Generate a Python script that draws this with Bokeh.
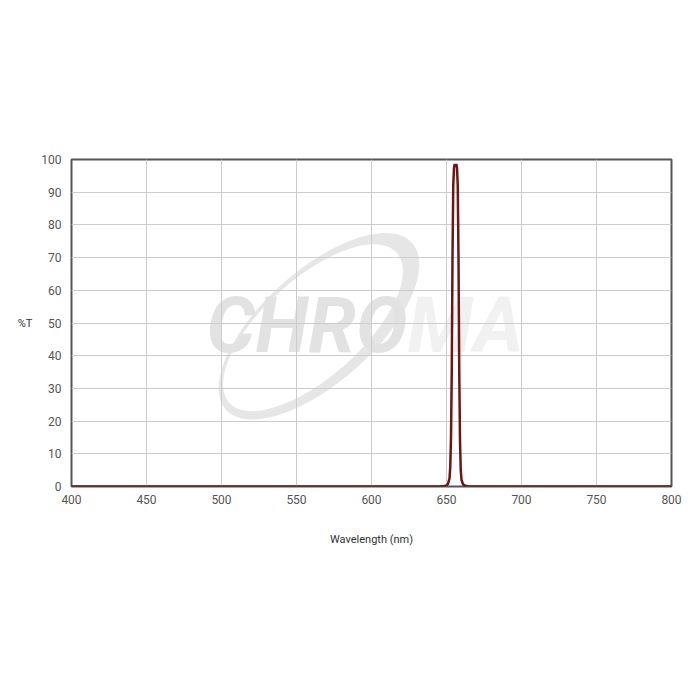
from bokeh.plotting import figure
from bokeh.models import SingleIntervalTicker, Range1d
from bokeh.core.properties import value
from bokeh.embed import file_html
from bokeh.resources import INLINE

# Transmission spectrum
wavelength = [400, 640, 646, 648, 650, 651, 652, 652.5, 653, 653.5, 654, 654.5, 655,
              655.5, 656, 656.5, 657, 657.5, 658, 658.5, 659, 659.5, 660, 661, 662,
              664, 668, 800]
transmission = [0, 0, 0.05, 0.1, 0.3, 0.8, 2.5, 6, 15, 35, 70, 92, 97.5,
                98.6, 98.0, 98.6, 97.5, 92, 70, 35, 14, 5, 2, 0.7, 0.3,
                0.1, 0.02, 0]

x_ticks_interval = 50
y_ticks_interval = 10
x_title = "Wavelength (nm)"
y_title = "%T"

p = figure(width=692, height=692, output_backend="svg", toolbar_location=None,
           x_range=Range1d(400, 800), y_range=Range1d(0, 100),
           min_border_left=71, min_border_right=21, min_border_top=159,
           min_border_bottom=206)
p.background_fill_color = "white"
p.border_fill_color = "white"
p.outline_line_color = "#555555"
p.outline_line_width = 2

# Watermark (decorative logo, drawn beneath the grid)
wm_cx, wm_cy = 565, 49
p.ellipse(x=[wm_cx], y=[wm_cy], width=250, height=112, angle=0.73,
          width_units="screen", height_units="screen",
          fill_color="#e6e6e6", line_color=None, level="image")
p.ellipse(x=[wm_cx - 4.0], y=[wm_cy - 0.45], width=225, height=98, angle=0.73,
          width_units="screen", height_units="screen",
          fill_color="white", line_color=None, level="image")
p.text(x=[624], y=[49], text=["CHRO"], text_align="right", text_baseline="alphabetic",
       text_font=value("Roboto"), text_font_style="bold italic", text_font_size="77px",
       text_color="#e2e2e2", level="image")
p.text(x=[624], y=[49], text=["MA"], text_align="left", text_baseline="alphabetic",
       text_font=value("Roboto"), text_font_style="bold italic", text_font_size="77px",
       text_color="#f1f1f1", level="image")

p.line(wavelength, transmission, line_color="#6e1515", line_width=2.5)

p.xaxis.ticker = SingleIntervalTicker(interval=x_ticks_interval)
p.yaxis.ticker = SingleIntervalTicker(interval=y_ticks_interval)
for ax in (p.xaxis, p.yaxis):
    ax.axis_line_color = None
    ax.major_tick_line_color = None
    ax.minor_tick_line_color = None
    ax.major_label_text_font = "Roboto"
    ax.major_label_text_font_size = "12px"
    ax.major_label_text_color = "#555555"
    ax.axis_label_text_font = "Roboto"
    ax.axis_label_text_font_size = "11px"
    ax.axis_label_text_font_style = "normal"
    ax.axis_label_text_color = "#333333"

p.xaxis.axis_label = x_title
p.xaxis.major_label_standoff = 2
p.xaxis.axis_label_standoff = 26
p.yaxis.axis_label = y_title
p.yaxis.axis_label_orientation = "horizontal"
p.yaxis.major_label_standoff = 4
p.yaxis.axis_label_standoff = 6

p.xgrid.grid_line_color = "#cccccc"
p.ygrid.grid_line_color = "#cccccc"
p.xgrid.grid_line_width = 1
p.ygrid.grid_line_width = 1

open("out.html", "w").write(file_html(p, INLINE))
